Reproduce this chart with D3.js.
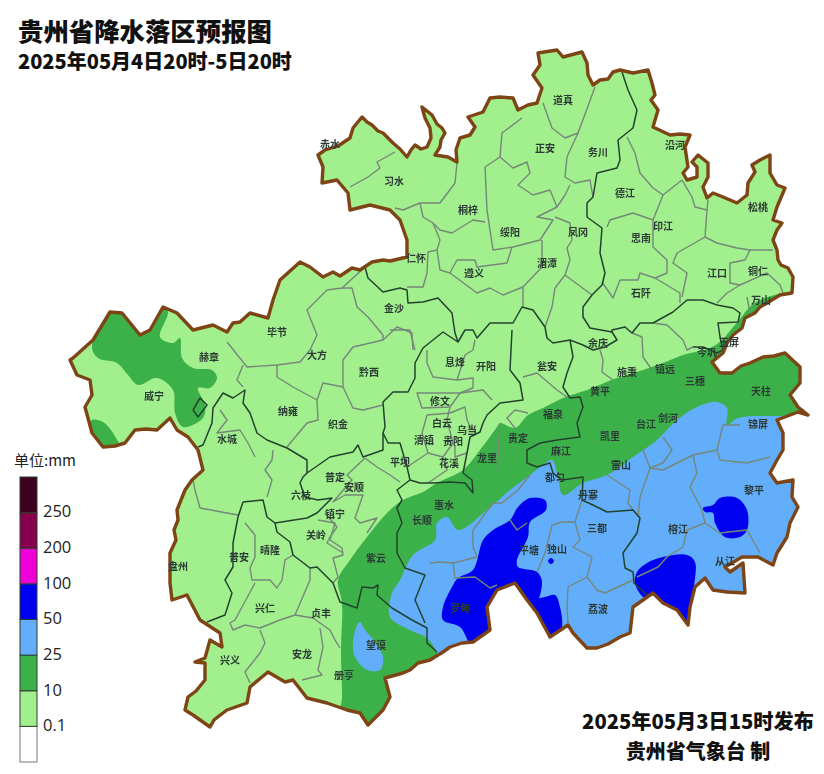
<!DOCTYPE html>
<html>
<head>
<meta charset="utf-8">
<title>贵州省降水落区预报图</title>
<script src="https://cdn.jsdelivr.net/npm/d3@7"></script>
<style>
  html, body { margin: 0; padding: 0; background: #fff; }
  svg { display: block; }
  text { font-family: "Noto Sans CJK SC", "Noto Sans", sans-serif; }
</style>
</head>
<body>
<div id="chart"></div>
<script>
// rain classes, bottom to top of the legend
var legendLabels = ["0.1", "10", "25", "50", "100", "200", "250"];
var legendColors = ["#ffffff", "#a2ef8d", "#3cb149", "#63aefa", "#0000f0", "#f000d8", "#87004e", "#3e0020"];

var titleText = "贵州省降水落区预报图";
var periodText = "2025年05月4日20时-5日20时";
var issueText = "2025年05月3日15时发布";
var agencyText = "贵州省气象台 制";
var unitText = "单位:mm";

var provinceOutline = [
  [318,155],[325,150],[338,146],[350,138],[353,128],[362,117],[367,122],[372,125],[378,131],[383,133],[393,143],[400,149],[407,157],
  [411,150],[415,145],[421,149],[427,147],[431,138],[430,128],[425,118],[422,107],[432,115],[437,124],[442,128],[445,133],[441,140],[440,147],[435,155],[448,157],
  [457,162],[456,150],[460,138],[470,135],[475,127],[468,117],[483,112],[490,98],[500,97],[513,98],[518,110],[528,105],[537,103],
  [542,88],[533,75],[540,65],[538,53],[557,50],[563,57],[582,52],[587,63],[588,75],[593,85],
  [600,80],[608,79],[613,72],[620,70],[633,73],[648,70],[652,83],[655,95],[651,100],[658,110],[653,127],[670,135],[680,134],[690,135],[685,147],[688,167],
  [683,173],[687,180],[697,177],[697,167],[692,162],[698,155],[708,163],[708,177],[703,187],[707,198],
  [713,193],[723,197],[737,203],[747,195],[748,183],[755,172],[752,165],[760,160],[770,155],[770,173],[777,185],[785,188],
  [777,207],[773,220],[782,223],[777,230],[773,240],[777,250],[778,260],[781,265],[788,268],[793,277],[792,293],[780,295],[767,303],
  [760,307],[755,313],[745,318],[742,328],[733,335],[727,343],[723,353],[712,362],[720,373],[732,373],[741,366],[750,363],[763,357],[774,356],[785,353],
  [800,367],[800,383],[790,395],[798,407],[808,415],[798,412],[777,420],[783,433],[783,450],[777,460],[770,473],
  [777,483],[793,480],[792,497],[798,507],[790,523],[787,537],[777,553],[773,565],[758,557],[742,557],
  [725,567],[730,572],[743,563],[745,593],[727,592],[713,590],[705,578],[695,587],[690,607],[688,625],
  [677,610],[663,603],[653,593],[633,607],[630,633],[620,637],[608,644],[597,648],[587,648],[573,633],[568,625],[550,637],
  [537,613],[527,600],[515,583],[497,590],[487,607],[490,630],[473,642],[462,643],[450,647],[443,652],[430,660],[418,663],[410,670],
  [403,673],[385,678],[390,697],[383,710],[368,725],[360,713],[347,710],[327,703],[307,698],[293,680],
  [285,682],[268,672],[250,687],[247,703],[227,710],[219,716],[214,720],[210,727],[193,715],[185,710],[188,697],[196,691],[205,680],
  [205,663],[195,662],[205,658],[210,640],[222,647],[220,633],[200,620],[187,595],[172,600],[170,583],
  [170,553],[176,540],[174,530],[178,520],[177,510],[185,490],[192,480],[203,470],[198,450],[188,437],[177,430],[170,418],[157,430],[146,429],[135,430],
  [125,443],[115,446],[103,447],[92,433],[85,407],[92,395],[90,380],[77,375],[70,360],[73,358],[93,340],
  [110,312],[122,313],[140,335],[150,330],[163,307],[177,313],[193,330],[213,325],[227,332],[233,323],[240,322],[250,313],
  [268,318],[273,300],[280,280],[300,262],[310,267],[323,277],[333,272],[340,276],[352,268],[360,270],[372,262],[383,260],[390,261],[407,257],
  [407,240],[400,220],[390,210],[370,205],[350,210],[348,193],[337,180],[322,183],[323,167]
];

var rain10Areas = [
  // main band, runs past the province edge on the south and east
  [[340,740],[342,697],[341,653],[342,603],[338,580],[350,560],[367,537],[387,513],[403,500],[423,492],
   [437,483],[463,470],[480,450],[497,427],[500,423],[515,428],[528,415],[543,408],[563,398],[587,390],[617,378],
   [643,370],[663,363],[683,355],[710,348],[722,340],[735,325],[760,300],[830,300],[830,740]],
  // Weining north
  [[92,348],[100,325],[110,312],[122,310],[140,332],[150,327],[163,305],[168,312],[160,337],[173,343],
   [180,338],[182,358],[193,368],[212,370],[217,378],[210,388],[198,388],[205,405],[203,418],[183,427],
   [175,413],[173,390],[157,378],[138,385],[128,375],[117,363],[98,358]],
  // Weining south
  [[92,420],[103,422],[113,433],[120,450],[100,452],[88,440],[86,427]]
];

var rain25Areas = [
  [[830,418],[777,416],[738,418],[727,425],[727,408],[717,402],[697,407],[677,420],[657,440],[633,457],
   [607,475],[583,483],[563,495],[558,477],[552,460],[543,465],[530,475],[510,490],[487,510],[458,530],
   [447,517],[437,523],[435,540],[413,555],[400,580],[392,593],[390,617],[410,630],[427,638],[438,655],
   [445,690],[830,700]],
  // Wangmo
  [[360,622],[365,630],[375,642],[383,657],[380,670],[367,670],[355,657],[353,643],[356,628]]
];

var rain50Areas = [
  [[530,498],[545,500],[546,510],[530,522],[528,537],[517,560],[518,567],[537,572],[542,582],[535,604],
   [523,602],[515,594],[497,602],[495,620],[498,640],[475,650],[460,627],[443,620],[443,607],[452,587],
   [458,578],[473,570],[483,540],[493,530],[510,520],[518,507]],
  [[532,610],[535,600],[545,597],[555,595],[560,607],[562,627],[556,640],[545,638],[535,625]],
  [[637,572],[647,563],[663,557],[687,555],[695,562],[694,590],[695,630],[680,625],[665,610],[652,600],
   [643,597],[635,583]],
  [[703,508],[713,505],[720,498],[737,498],[747,510],[747,530],[740,537],[725,537],[715,523],[713,513],[705,512]],
  // small spot near Dushan
  [[551,558],[554,561],[551,564],[548,561]]
];

// prefecture boundaries
var prefectureLines = [
  [[622,72],[628,90],[637,110],[633,128],[618,140],[620,160],[617,168],[597,173],[593,197],[587,203],[587,217],
   [602,228],[600,253],[605,273],[602,285],[592,295],[583,307],[583,317],[590,328],[612,332],[612,330],[625,327],
   [632,333],[640,323],[653,323],[673,312],[687,300],[703,300],[717,305],[733,308],[740,313],[738,322],[718,323],[720,337],[723,350]],
  [[365,267],[368,278],[383,292],[400,288],[407,290],[408,303],[423,302],[438,298],[452,313],[455,333],[458,342],
   [465,330],[473,330],[477,338],[490,323],[513,323],[522,307],[533,310],[545,327],[547,338],[553,343],[570,340],
   [583,345],[593,350],[605,347],[617,340],[612,332]],
  [[458,342],[443,332],[423,348],[415,363],[415,378],[408,392],[393,392],[383,402],[385,427],[383,433],[388,443],[400,443],
   [407,467],[410,480],[420,483],[433,483],[450,482],[465,483],[473,493],[472,480],[463,473],[467,453],[470,437],
   [480,432],[483,423],[487,415],[500,403],[523,400],[520,383],[510,370],[512,330]],
  [[570,340],[573,357],[567,373],[563,387],[570,398],[580,397],[583,407],[577,423],[580,437],[557,440],[540,443],
   [527,450],[527,463],[537,467],[550,463],[553,473],[562,480],[583,477],[582,500],[593,505],[607,512],[633,510],
   [640,518],[637,533],[623,553],[625,568],[633,572],[634,583],[647,595]],
  [[383,433],[383,450],[363,457],[358,445],[353,452],[330,457],[307,473],[307,460],[287,448],[267,440],[257,433],
   [250,413],[243,403],[245,390],[233,398],[223,393],[213,408],[212,423],[203,445],[198,447]],
  [[307,473],[303,477],[300,483],[305,497],[318,500],[332,498],[317,513],[307,518],[275,523],[277,532],[290,542],
   [293,555],[310,568],[317,567],[333,583],[340,602],[357,608],[362,587],[373,588],[378,585],[377,595],[392,608],
   [412,620],[427,628],[427,643],[437,652]],
  [[410,480],[397,490],[402,500],[397,508],[402,523],[397,533],[397,553],[405,568],[425,575],[415,600],[425,623]],
  [[243,502],[263,500],[267,517],[275,523]],
  [[243,502],[238,517],[233,543],[233,567],[225,580],[232,593],[225,615],[207,622]],
  // Weining lake
  [[193,410],[200,398],[207,405],[198,417],[193,410]],
  // Cengong corner
  [[693,347],[703,347],[717,353],[723,350]]
];

// county boundaries
var countyLines = [
  [[543,103],[552,128],[565,138],[578,133],[595,87]],
  [[522,118],[502,133],[500,157],[485,167],[487,210],[493,250],[513,247],[540,240],[553,220],[537,217],[557,207],
   [550,190],[533,195],[518,185],[530,173],[527,162],[513,168],[500,157]],
  [[578,133],[567,157],[565,177],[575,183],[590,180],[593,197]],
  [[557,207],[565,195],[570,185]],
  [[555,217],[570,223],[572,240],[567,248],[570,260],[565,275],[555,288],[552,307],[545,327]],
  [[565,275],[592,295]],
  [[542,240],[542,267],[523,287],[523,307]],
  [[457,163],[455,183],[440,203],[420,203],[423,217],[433,223],[440,230],[452,233],[473,220],[485,222]],
  [[420,203],[403,210],[395,208]],
  [[433,223],[440,240],[437,250],[428,252],[427,273],[423,287],[407,287]],
  [[437,250],[440,270],[450,273],[477,293],[490,288],[503,295],[523,287]],
  [[450,273],[453,267],[457,260],[475,260],[477,267],[507,263],[512,247]],
  [[395,152],[377,162],[380,168],[368,177],[350,187]],
  [[627,137],[635,153],[640,173],[653,188],[663,195],[682,180]],
  [[663,195],[653,220],[633,213],[610,220],[607,227]],
  [[653,220],[653,247],[667,260],[667,273],[655,278],[640,273],[638,280],[620,280],[613,298],[602,282]],
  [[655,278],[680,293],[680,303]],
  [[682,180],[692,197],[695,207],[707,210],[708,200]],
  [[707,210],[705,237],[677,253],[673,263],[687,273],[682,297]],
  [[705,237],[717,243],[737,248],[750,250],[773,250]],
  [[750,250],[745,260],[730,263],[730,283],[740,285],[727,293],[717,303]],
  [[740,285],[767,273],[780,285],[783,293]],
  [[747,297],[750,313]],
  [[365,267],[342,288],[327,290],[307,310],[317,335],[310,350],[300,362],[277,365],[247,367],[227,342]],
  [[342,288],[352,288],[357,307],[368,317],[383,335],[383,340],[353,347],[343,360],[343,387]],
  [[383,340],[397,327],[412,333],[413,350]],
  [[243,365],[237,380],[243,387]],
  [[277,365],[277,377],[293,387],[317,400],[323,383],[343,387],[353,408],[363,410],[383,405]],
  [[317,400],[318,420],[307,423],[287,447]],
  [[220,410],[227,420],[217,433],[240,430],[248,443],[255,457]],
  [[273,450],[272,460],[265,470],[272,480],[267,497]],
  [[193,480],[195,490],[200,508],[227,513],[238,515]],
  [[245,523],[255,535],[255,557],[250,568],[252,580],[270,580],[277,588],[282,580],[285,560],[293,555]],
  [[255,583],[235,620],[230,623],[233,630],[245,625],[260,628],[280,620],[295,615],[310,580],[310,568]],
  [[295,615],[313,618],[330,630],[335,640],[340,648]],
  [[320,628],[323,647],[318,670],[322,675],[302,680]],
  [[260,630],[265,643],[260,653],[245,672],[250,683]],
  [[333,583],[338,577],[333,558],[343,555],[342,548],[330,540],[335,523],[318,520]],
  [[365,458],[347,475],[352,480],[333,502],[345,495],[363,495],[355,518],[360,523],[377,518],[367,533]],
  [[325,513],[337,527],[330,537],[327,543],[343,553]],
  [[365,458],[377,467],[390,475],[400,482]],
  [[427,350],[427,363],[433,377],[457,380],[465,355],[473,350],[475,340]],
  [[457,380],[473,378],[473,388],[460,393],[417,393],[422,408],[450,407],[460,393]],
  [[460,393],[483,390],[492,400]],
  [[427,415],[422,433],[428,453],[443,457],[453,443],[447,420],[450,407]],
  [[427,415],[450,413],[465,407],[467,420],[472,430]],
  [[455,445],[455,457],[467,453]],
  [[428,453],[407,467]],
  [[443,457],[447,470],[428,483]],
  [[390,330],[410,330],[413,343],[415,350]],
  [[523,377],[537,373],[557,390],[567,397]],
  [[528,413],[515,410],[507,418],[515,428]],
  [[500,423],[497,470]],
  [[600,350],[603,360],[602,372],[613,380]],
  [[632,333],[642,337],[643,357],[652,370]],
  [[653,323],[667,325],[683,340],[687,350],[693,347]],
  [[663,437],[672,450],[663,463],[650,468],[643,450]],
  [[650,468],[663,470],[693,455],[717,450],[723,425],[740,425]],
  [[717,450],[720,460],[747,463],[770,457]],
  [[693,455],[697,473],[690,487],[702,510],[705,523],[687,530],[683,547],[667,557],[658,567],[637,577]],
  [[705,523],[720,533],[747,530],[760,553]],
  [[650,468],[640,497],[638,517]],
  [[607,475],[630,490],[628,503],[633,510]],
  [[582,500],[575,522],[580,540],[573,547],[592,557],[587,577],[568,587],[567,607],[568,623]],
  [[587,577],[597,590],[605,593],[633,580]],
  [[575,522],[562,522],[552,525],[545,553],[537,572]],
  [[530,475],[518,490],[502,503],[493,503],[473,530],[473,547],[477,557],[453,563],[455,578],[475,577],[490,588],[497,585]],
  [[430,563],[440,562],[453,563]],
  [[510,520],[517,530],[527,523]]
];

// county names and where they sit on the map grid
var countyNames = ["道真","赤水","习水","正安","务川","沿河","德江","松桃","桐梓","绥阳","凤冈","思南","印江","仁怀","遵义","湄潭","江口","铜仁","石阡","万山","金沙","毕节","赫章","大方","黔西","息烽","开阳","瓮安","余庆","玉屏","岑巩","施秉","镇远","三穗","天柱","黄平","威宁","纳雍","织金","修文","福泉","剑河","台江","凯里","贵定","白云","乌当","贵阳","水城","清镇","平坝","花溪","龙里","麻江","雷山","锦屏","都匀","丹寨","普定","六枝","安顺","惠水","长顺","镇宁","黎平","三都","榕江","关岭","平塘","独山","紫云","盘州","普安","晴隆","从江","兴仁","贞丰","罗甸","荔波","望谟","兴义","安龙","册亨"];
var countyX = [563,330,394,545,598,675,625,758,468,510,578,641,663,416,474,547,717,758,641,761,394,277,209,317,369,455,486,547,598,729,707,627,665,695,761,600,154,288,338,440,553,668,646,610,518,442,467,453,227,424,400,449,487,561,621,758,555,588,335,301,354,444,422,335,754,597,678,316,529,557,376,178,239,270,725,265,321,460,598,376,230,302,344];
var countyY = [99,143,180,147,151,144,192,206,209,231,231,237,225,257,272,262,272,270,292,299,307,331,356,354,371,361,365,365,342,341,351,371,368,380,390,390,395,410,423,400,413,417,423,435,437,422,429,440,438,439,461,462,457,450,464,423,476,494,476,494,486,504,519,513,489,527,528,534,549,548,557,565,556,549,560,607,612,607,608,644,659,653,674];

var width = 824, height = 774;

var mapX = d3.scaleLinear().domain([0, 824]).range([0, width]);
var mapY = d3.scaleLinear().domain([0, 774]).range([0, height]);

var svg = d3.select("#chart").append("svg")
  .attr("width", width)
  .attr("height", height);

// the source is a soft jpeg, a small blur gets the map closer to it
svg.append("filter").attr("id", "soft")
  .attr("x", "-2%").attr("y", "-2%").attr("width", "104%").attr("height", "104%")
  .append("feGaussianBlur").attr("stdDeviation", 0.4);

var outlineLine = d3.line()
  .x(function(d) { return mapX(d[0]); })
  .y(function(d) { return mapY(d[1]); });

var closedOutline = outlineLine.curve(d3.curveLinearClosed)(provinceOutline);

svg.append("clipPath").attr("id", "province")
  .append("path").attr("d", closedOutline);

var softLayer = svg.append("g").attr("filter", "url(#soft)");
var map = softLayer.append("g").attr("clip-path", "url(#province)");

// base colour, the whole province got at least 0.1 mm
map.append("path").attr("d", closedOutline).attr("fill", legendColors[1]);

// rain areas, light to heavy
var areaPath = d3.line()
  .x(function(d) { return mapX(d[0]); })
  .y(function(d) { return mapY(d[1]); })
  .curve(d3.curveCatmullRomClosed.alpha(0.5));

function drawAreas(areas, color) {
  map.append("g").selectAll("path")
    .data(areas)
    .join("path")
    .attr("d", areaPath)
    .attr("fill", color);
}
drawAreas(rain10Areas, legendColors[2]);
drawAreas(rain25Areas, legendColors[3]);
drawAreas(rain50Areas, legendColors[4]);

// boundaries
var linePath = d3.line()
  .x(function(d) { return mapX(d[0]); })
  .y(function(d) { return mapY(d[1]); });

map.append("g").selectAll("path")
  .data(countyLines)
  .join("path")
  .attr("d", linePath)
  .attr("fill", "none")
  .attr("stroke", "#76877a")
  .attr("stroke-width", 1.4)
  .attr("stroke-linejoin", "round");

map.append("g").selectAll("path")
  .data(prefectureLines)
  .join("path")
  .attr("d", linePath)
  .attr("fill", "none")
  .attr("stroke", "#24432f")
  .attr("stroke-width", 1.5)
  .attr("stroke-linejoin", "round");

// province border on top
softLayer.append("path")
  .attr("d", closedOutline)
  .attr("fill", "none")
  .attr("stroke", "#7d4515")
  .attr("stroke-width", 3.4)
  .attr("stroke-linejoin", "round");

// county labels
softLayer.append("g").selectAll("text")
  .data(countyNames)
  .join("text")
  .attr("x", function(d, i) { return mapX(countyX[i]); })
  .attr("y", function(d, i) { return mapY(countyY[i]); })
  .attr("text-anchor", "middle")
  .attr("dominant-baseline", "central")
  .attr("font-size", 10)
  .attr("font-weight", 700)
  .attr("fill", "#2c3a36")
  .text(function(d) { return d; });

// legend, one cell per class
var legendY = d3.scaleBand()
  .domain(d3.range(legendColors.length))
  .range([762, 477]);

var legend = svg.append("g");

legend.selectAll("rect")
  .data(legendColors)
  .join("rect")
  .attr("x", 20)
  .attr("width", 17)
  .attr("y", function(d, i) { return legendY(i); })
  .attr("height", legendY.bandwidth())
  .attr("fill", function(d) { return d; })
  .attr("stroke", function(d, i) { return i == 0 ? "#777" : "#2d3f2d"; })
  .attr("stroke-width", 1);

legend.selectAll("text.tick")
  .data(legendLabels)
  .join("text")
  .attr("class", "tick")
  .attr("x", 43)
  .attr("y", function(d, i) { return legendY(i); })
  .attr("dy", "-0.1em")
  .attr("dominant-baseline", "central")
  .style("font-family", "'Open Sans', 'Noto Sans', sans-serif")
  .attr("font-size", 16.5)
  .attr("fill", "#222")
  .text(function(d) { return d; });

legend.append("text")
  .attr("x", 14)
  .attr("y", 466)
  .attr("font-size", 15)
  .attr("fill", "#222")
  .text(unitText);

// titles
svg.append("text").attr("x", 18).attr("y", 41)
  .attr("font-size", 25.4).attr("font-weight", 900).attr("fill", "#111")
  .text(titleText);

svg.append("text").attr("x", 18).attr("y", 69)
  .attr("font-size", 20).attr("font-weight", 900).attr("fill", "#111")
  .text(periodText);

svg.append("text").attr("x", 698).attr("y", 729).attr("text-anchor", "middle")
  .attr("font-size", 20.2).attr("font-weight", 900).attr("fill", "#111")
  .text(issueText);

svg.append("text").attr("x", 698).attr("y", 759).attr("text-anchor", "middle")
  .attr("font-size", 20).attr("font-weight", 900).attr("fill", "#111")
  .text(agencyText);
</script>
</body>
</html>
